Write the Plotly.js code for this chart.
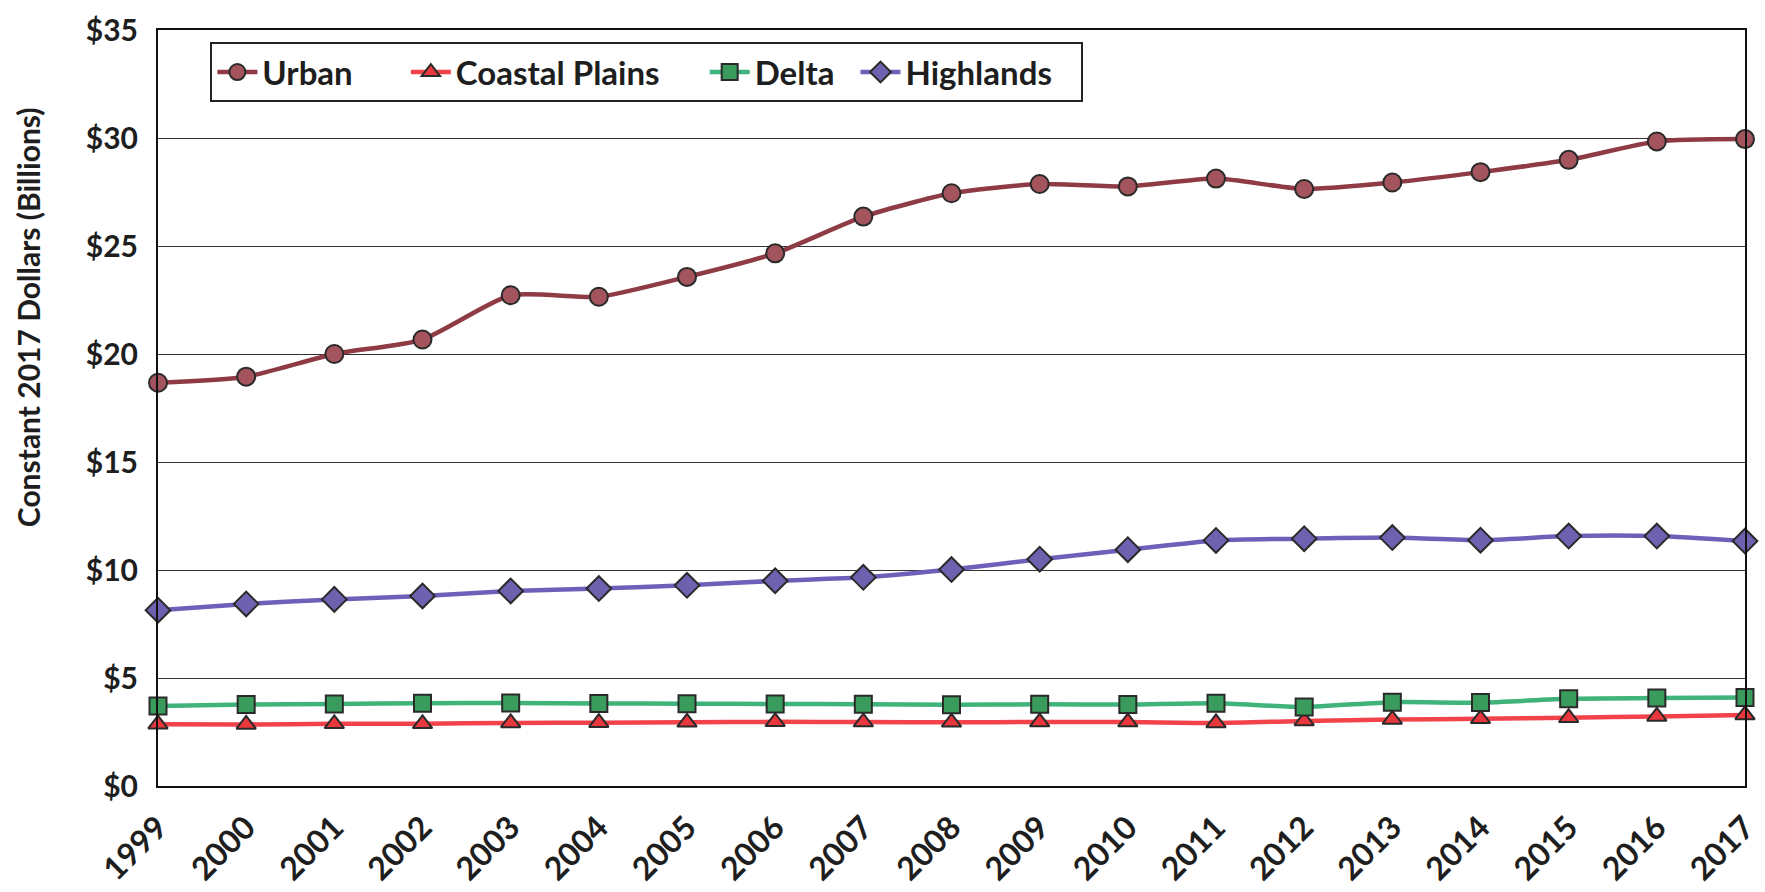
<!DOCTYPE html>
<html>
<head>
<meta charset="utf-8">
<script src="https://cdn.plot.ly/plotly-3.0.1.min.js"></script>
<style>
  html, body { margin: 0; padding: 0; background: #ffffff; }
  #chart { width: 1765px; height: 892px; }
</style>
</head>
<body>
<div id="chart"></div>
<script>
const years = ['1999','2000','2001','2002','2003','2004','2005','2006','2007','2008','2009','2010','2011','2012','2013','2014','2015','2016','2017'];
const urban = [18.67, 18.95, 20.0, 20.67, 22.72, 22.65, 23.57, 24.66, 26.36, 27.44, 27.87, 27.76, 28.12, 27.64, 27.94, 28.42, 28.99, 29.84, 29.95];
const coastalPlains = [2.86, 2.85, 2.88, 2.88, 2.92, 2.93, 2.95, 2.97, 2.96, 2.95, 2.96, 2.96, 2.92, 3.01, 3.08, 3.11, 3.16, 3.22, 3.29];
const delta = [3.70, 3.77, 3.80, 3.83, 3.84, 3.82, 3.81, 3.80, 3.78, 3.76, 3.78, 3.77, 3.83, 3.66, 3.88, 3.86, 4.04, 4.07, 4.10];
const highlands = [8.14, 8.43, 8.64, 8.80, 9.03, 9.14, 9.29, 9.50, 9.66, 10.02, 10.50, 10.94, 11.37, 11.45, 11.50, 11.38, 11.57, 11.57, 11.34];
const yTickVals = [0, 5, 10, 15, 20, 25, 30, 35];
const yTickText = ['$0', '$5', '$10', '$15', '$20', '$25', '$30', '$35'];
const yTitle = 'Constant 2017 Dollars (Billions)';

const FONT = 'Lato, "Open Sans", "DejaVu Sans", sans-serif';
const nb = n => '\u00A0'.repeat(n);

function series(name, pad, y, lineColor, symbol, fill, size) {
  return {
    type: 'scatter', mode: 'lines+markers', name: name + nb(pad),
    x: years, y: y, cliponaxis: false,
    line: { color: lineColor, width: 4.5, shape: 'spline', smoothing: 0.6 },
    marker: { symbol: symbol, size: size, color: fill, line: { color: '#2a2a2a', width: 2 } }
  };
}

const data = [
  series('Urban', 6, urban, '#8e3b45', 'circle', '#a4545c', 18),
  series('Coastal Plains', 5, coastalPlains, '#f2424a', 'triangle-up', '#e8383e', 17),
  series('Delta', 2, delta, '#3fb37a', 'square', '#3a9c5c', 17),
  series('Highlands', 3, highlands, '#6f5fb8', 'diamond', '#6e62b0', 19)
];

const layout = {
  width: 1765, height: 892,
  paper_bgcolor: '#ffffff', plot_bgcolor: '#ffffff',
  margin: { l: 158, r: 20, t: 30, b: 106 },
  font: { family: FONT, color: '#1e1e1e', weight: 700 },
  showlegend: true,
  legend: {
    orientation: 'h', x: 0.033, y: 0.984, xanchor: 'left', yanchor: 'top',
    bgcolor: '#ffffff', bordercolor: '#222222', borderwidth: 2,
    font: { family: FONT, size: 33, color: '#1e1e1e', weight: 700 },
    itemwidth: 40
  },
  xaxis: {
    type: 'category', range: [0, 18],
    tickangle: -45, tickfont: { family: FONT, size: 32, weight: 700, color: '#1e1e1e' },
    showgrid: false, zeroline: false,
    showline: true, linecolor: '#111111', linewidth: 2, mirror: true,
    ticks: '', ticklabelstandoff: 8
  },
  yaxis: {
    range: [0, 35], tickvals: yTickVals, ticktext: yTickText,
    tickfont: { family: FONT, size: 30, weight: 700, color: '#1e1e1e' },
    showgrid: true, gridcolor: '#333333', gridwidth: 1,
    zeroline: false, showline: true, linecolor: '#111111', linewidth: 2, mirror: true,
    ticks: '', ticklabelstandoff: 12
  },
  annotations: [{
    text: yTitle, textangle: -90, showarrow: false,
    xref: 'paper', yref: 'paper', x: -0.082, y: 0.62, xanchor: 'center', yanchor: 'middle',
    font: { family: FONT, size: 30, weight: 700, color: '#1e1e1e' }
  }]
};

Plotly.newPlot('chart', data, layout, { displayModeBar: false, staticPlot: true });
</script>
</body>
</html>
